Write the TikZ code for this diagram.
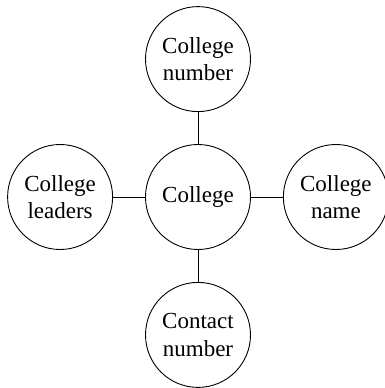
\documentclass[tikz,border=0pt]{standalone}
\usepackage{fontspec}
\setmainfont{Liberation Serif}
\usetikzlibrary{positioning}
\tikzset{
  entity/.style={circle,draw,line width=0.9pt,minimum size=105pt,inner sep=0pt,
    align=center,font=\fontsize{23}{27.5}\selectfont},
  link/.style={line width=0.9pt}
}

\begin{document}
\begin{tikzpicture}[node distance=32pt]
\useasboundingbox (0,0) rectangle (384pt,-388pt);
\node[entity] (college) at (198pt,-197pt) {College};
\node[entity,above=of college] (number) {College\\number};
\node[entity,below=of college] (contact) {Contact\\number};
\node[entity,left=of college] (leaders) {College\\leaders};
\node[entity,right=of college] (name) {College\\name};
% links to the centre
\draw[link] (college) -- (number);
\draw[link] (college) -- (contact);
\draw[link] (college) -- (leaders);
\draw[link] (college) -- (name);
\end{tikzpicture}
\end{document}
